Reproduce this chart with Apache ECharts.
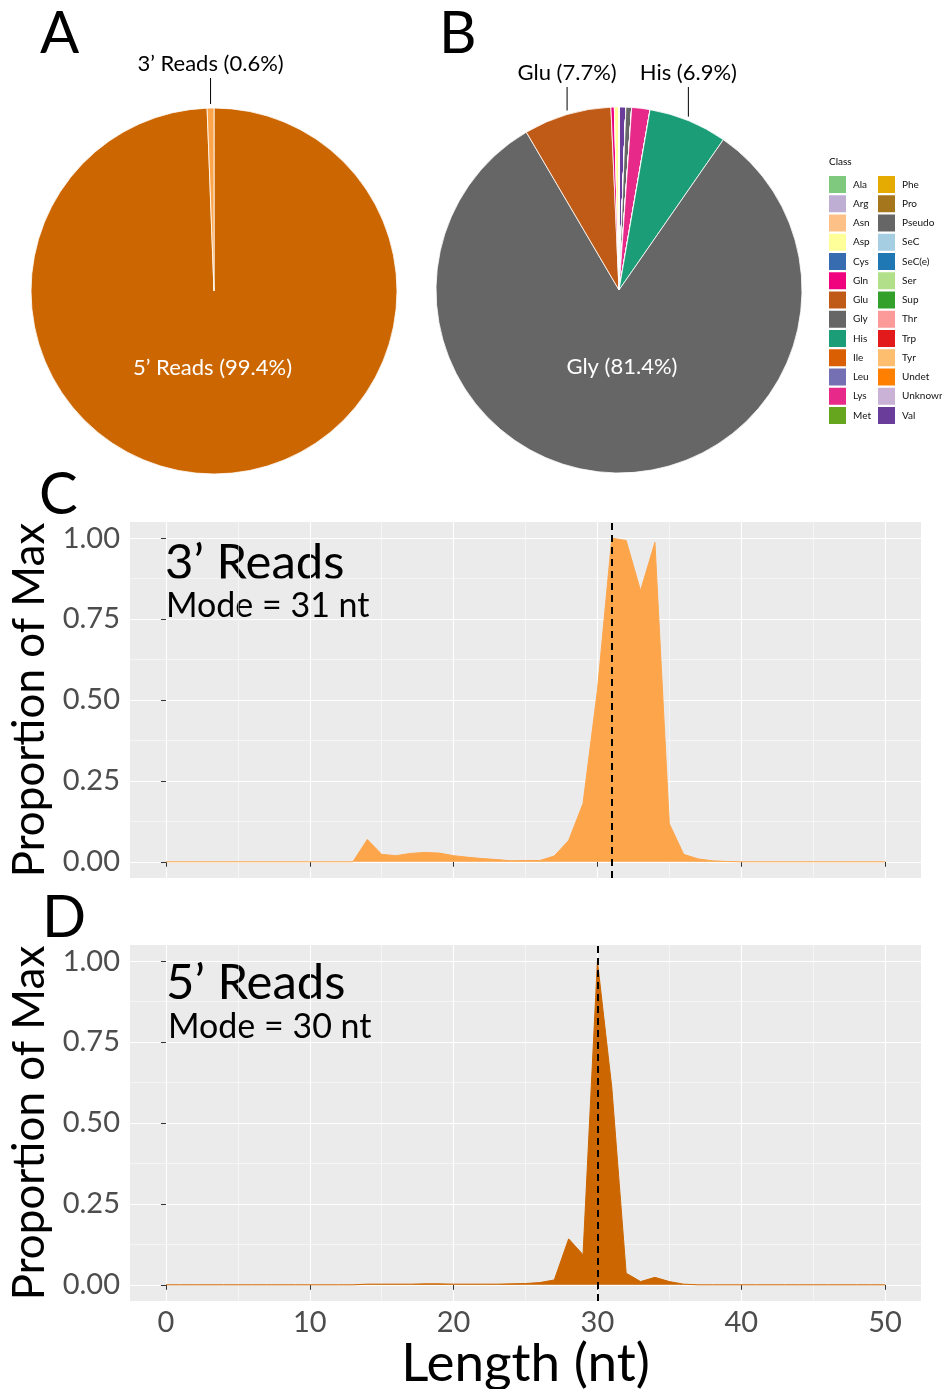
<!DOCTYPE html>
<html>
<head>
<meta charset="utf-8">
<script src="https://cdn.jsdelivr.net/npm/echarts@6/dist/echarts.min.js"></script>
<style>
html, body { margin: 0; padding: 0; background: #fff; }
#chart { width: 942px; height: 1389px; }
</style>
</head>
<body>
<div id="chart"></div>
<script>
// A: share of reads by end
const readTypes = ['5’ Reads', '3’ Reads'];
const readShares = [99.4, 0.6];
const readColors = ['#CC6600', '#FDA54B'];

// B: share of reads by tRNA class (%), alphabetical as in the legend
const classNames = ['Ala', 'Arg', 'Asn', 'Asp', 'Cys', 'Gln', 'Glu', 'Gly', 'His', 'Ile', 'Leu', 'Lys', 'Met',
    'Phe', 'Pro', 'Pseudo', 'SeC', 'SeC(e)', 'Ser', 'Sup', 'Thr', 'Trp', 'Tyr', 'Undet', 'Unknown', 'Val'];
const classShares = [0, 0, 0, 0.4, 0, 0.3, 7.7, 81.4, 6.9, 0, 0, 1.6, 0,
    0, 0, 0.5, 0, 0, 0, 0, 0, 0, 0, 0, 0, 0.6];
const classColors = ['#7FC97F', '#BEAED4', '#FDC086', '#FFFF99', '#386CB0', '#F0027F', '#BF5B17', '#666666',
    '#1B9E77', '#D95F02', '#7570B3', '#E7298A', '#66A61E', '#E6AB02', '#A6761D', '#666666', '#A6CEE3',
    '#1F78B4', '#B2DF8A', '#33A02C', '#FB9A99', '#E31A1C', '#FDBF6F', '#FF7F00', '#CAB2D6', '#6A3D9A'];
const labelledClasses = ['Glu', 'Gly', 'His'];

// C, D: read length distributions (proportion of max)
const lengths = [0, 1, 2, 3, 4, 5, 6, 7, 8, 9, 10, 11, 12, 13, 14, 15, 16, 17, 18, 19, 20, 21, 22, 23, 24, 25,
    26, 27, 28, 29, 30, 31, 32, 33, 34, 35, 36, 37, 38, 39, 40, 41, 42, 43, 44, 45, 46, 47, 48, 49, 50];
const threePrime = [0, 0, 0, 0, 0, 0, 0, 0, 0, 0, 0, 0, 0, 0, 0.069, 0.023, 0.019, 0.026, 0.029, 0.027,
    0.019, 0.014, 0.010, 0.007, 0.003, 0.004, 0.004, 0.018, 0.066, 0.18, 0.53, 1.0, 0.993, 0.838, 0.987,
    0.118, 0.023, 0.009, 0.003, 0.001, 0, 0, 0, 0, 0, 0, 0, 0, 0, 0, 0];
const fivePrime = [0, 0, 0, 0, 0, 0, 0, 0, 0, 0, 0, 0, 0, 0, 0.002, 0.002, 0.002, 0.002, 0.003, 0.003,
    0.002, 0.002, 0.002, 0.002, 0.003, 0.004, 0.007, 0.015, 0.142, 0.093, 1.0, 0.61, 0.036, 0.010, 0.023,
    0.010, 0.002, 0, 0, 0, 0, 0, 0, 0, 0, 0, 0, 0, 0, 0, 0];
const threePrimeMode = 31;
const fivePrimeMode = 30;

const xTicks = [0, 10, 20, 30, 40, 50];
const xMinor = [5, 15, 25, 35, 45];
const yTicks = [0, 0.25, 0.5, 0.75, 1];
const yMinor = [0.125, 0.375, 0.625, 0.875];

const FONT = 'Lato';
const PIE_R = 183;

// ggplot-like label placement: big slice labelled inside, small ones above with a vertical leader
function pieLabels(center, values, lineTop) {
    const total = values.reduce((a, b) => a + b, 0);
    return function (p) {
        let before = 0;
        for (let i = 0; i < p.dataIndex; i++) before += values[i];
        const v = values[p.dataIndex];
        const mid = (before + v / 2) / total * 2 * Math.PI;
        if (v / total > 0.5) {
            return {
                x: center[0] - 0.42 * PIE_R * Math.sin(mid),
                y: center[1] - 0.42 * PIE_R * Math.cos(mid),
                align: 'center', verticalAlign: 'middle'
            };
        }
        const ax = center[0] + PIE_R * Math.sin(mid);
        const ay = center[1] - PIE_R * Math.cos(mid);
        return {
            x: ax, y: lineTop - 14, align: 'center', verticalAlign: 'middle',
            labelLinePoints: [[ax, lineTop], [ax, ay - 4]]
        };
    };
}

function sliceLabel(inside) {
    return {
        label: { show: true, position: inside ? 'inside' : 'outside', color: inside ? '#fff' : '#000',
            fontSize: 22, fontFamily: FONT },
        labelLine: { show: !inside, lineStyle: { color: '#000', width: 1 } }
    };
}

// pie A
const pieACenter = [214, 291];
const pieAData = readTypes.map((name, i) => Object.assign({
    name: name, value: readShares[i], itemStyle: { color: readColors[i] }
}, sliceLabel(readShares[i] > 50)));

// pie B: ggplot stacks the last level first, clockwise from the top
const pieBCenter = [619, 290];
const orderB = classNames.map((_, i) => i).reverse();
const pieBValues = orderB.map(i => classShares[i]);
const pieBData = orderB.map(i => {
    const item = { name: classNames[i], value: classShares[i], itemStyle: { color: classColors[i] } };
    if (labelledClasses.indexOf(classNames[i]) >= 0) Object.assign(item, sliceLabel(classShares[i] > 50));
    return item;
});

function pieSeries(center, data, values, lineTop) {
    return {
        type: 'pie', center: center, radius: PIE_R, startAngle: 90, clockwise: true,
        avoidLabelOverlap: false,
        itemStyle: { borderColor: '#fff', borderWidth: 0.8 },
        label: { show: false, formatter: p => p.name + ' (' + p.value.toFixed(1) + '%)' },
        labelLine: { show: false },
        emphasis: { disabled: true },
        labelLayout: pieLabels(center, values, lineTop),
        data: data
    };
}

const grids = [
    { left: 130, top: 522, width: 791, height: 356 },
    { left: 130, top: 945, width: 791, height: 356 }
].map(g => Object.assign(g, { show: true, backgroundColor: '#EBEBEB', borderWidth: 0, outerBoundsMode: 'none' }));

function xAxes(gi, withLabels) {
    return [{
        gridIndex: gi, type: 'value', min: -2.5, max: 52.5,
        axisLine: { show: false },
        axisTick: { show: true, customValues: xTicks, length: 5, lineStyle: { color: '#333', width: 1 } },
        axisLabel: { show: withLabels, customValues: xTicks, fontSize: 29, color: '#4D4D4D', fontFamily: FONT, margin: 7 },
        splitLine: { show: true, lineStyle: { color: '#fff', width: 1.1 } },
        name: withLabels ? 'Length (nt)' : '', nameLocation: 'middle', nameGap: 24,
        nameTextStyle: { fontSize: 53, color: '#000', fontFamily: FONT }
    }, {
        gridIndex: gi, type: 'value', min: -2.5, max: 52.5,
        axisLine: { show: false }, axisLabel: { show: false, customValues: xMinor },
        axisTick: { show: false, customValues: xMinor },
        splitLine: { show: true, lineStyle: { color: '#fff', width: 0.5 } }
    }];
}

function yAxes(gi) {
    return [{
        gridIndex: gi, type: 'value', min: -0.05, max: 1.05,
        axisLine: { show: false },
        axisTick: { show: true, customValues: yTicks, length: 5, lineStyle: { color: '#333', width: 1 } },
        axisLabel: { customValues: yTicks, formatter: v => v.toFixed(2), fontSize: 29, color: '#4D4D4D',
            fontFamily: FONT, margin: 10 },
        splitLine: { show: true, lineStyle: { color: '#fff', width: 1.1 } },
        name: 'Proportion of Max', nameLocation: 'middle', nameGap: 65,
        nameTextStyle: { fontSize: 44, color: '#000', fontFamily: FONT }
    }, {
        gridIndex: gi, type: 'value', min: -0.05, max: 1.05,
        axisLine: { show: false }, axisLabel: { show: false, customValues: yMinor },
        axisTick: { show: false, customValues: yMinor },
        splitLine: { show: true, lineStyle: { color: '#fff', width: 0.5 } }
    }];
}

function areaSeries(axisIdx, values, color, mode) {
    return {
        type: 'line', xAxisIndex: axisIdx, yAxisIndex: axisIdx,
        data: lengths.map((l, i) => [l, values[i]]),
        symbol: 'none', lineStyle: { color: color, width: 1 },
        areaStyle: { color: color, opacity: 1 },
        markLine: {
            silent: true, symbol: 'none', label: { show: false },
            lineStyle: { color: '#000', type: [7, 5], width: 2 },
            data: [{ xAxis: mode }]
        }
    };
}

function txt(text, x, y, size, align) {
    return { type: 'text', x: x, y: y, style: { text: text, font: size + 'px ' + FONT, fill: '#000',
        align: align || 'left', verticalAlign: 'middle' } };
}

function legendCol(names, left) {
    return {
        data: names, orient: 'vertical', left: left, top: 176, padding: 0,
        itemWidth: 17, itemHeight: 17, itemGap: 2.25, icon: 'rect', selectedMode: false,
        itemStyle: { borderWidth: 0 },
        textStyle: { fontSize: 10, fontFamily: FONT, color: '#111', padding: [0, 0, 0, 2] }
    };
}

const chart = echarts.init(document.getElementById('chart'));
chart.setOption({
    animation: false,
    grid: grids,
    xAxis: xAxes(0, false).concat(xAxes(1, true)),
    yAxis: yAxes(0).concat(yAxes(1)),
    legend: [legendCol(classNames.slice(0, 13), 829), legendCol(classNames.slice(13), 878)],
    series: [
        pieSeries(pieACenter, pieAData, readShares, 78),
        pieSeries(pieBCenter, pieBData, pieBValues, 87),
        areaSeries(0, threePrime, '#FDA54B', threePrimeMode),
        areaSeries(2, fivePrime, '#CC6600', fivePrimeMode)
    ],
    graphic: [
        txt('A', 40, 34, 58),
        txt('B', 439, 34, 58),
        txt('C', 39, 495, 58),
        txt('D', 42, 918, 58),
        txt('Class', 829, 162, 10),
        txt('3’ Reads', 165, 563, 49),
        txt('Mode = 31 nt', 166, 606, 34),
        txt('5’ Reads', 166, 983, 49),
        txt('Mode = 30 nt', 168, 1027, 34)
    ]
});
</script>
</body>
</html>
